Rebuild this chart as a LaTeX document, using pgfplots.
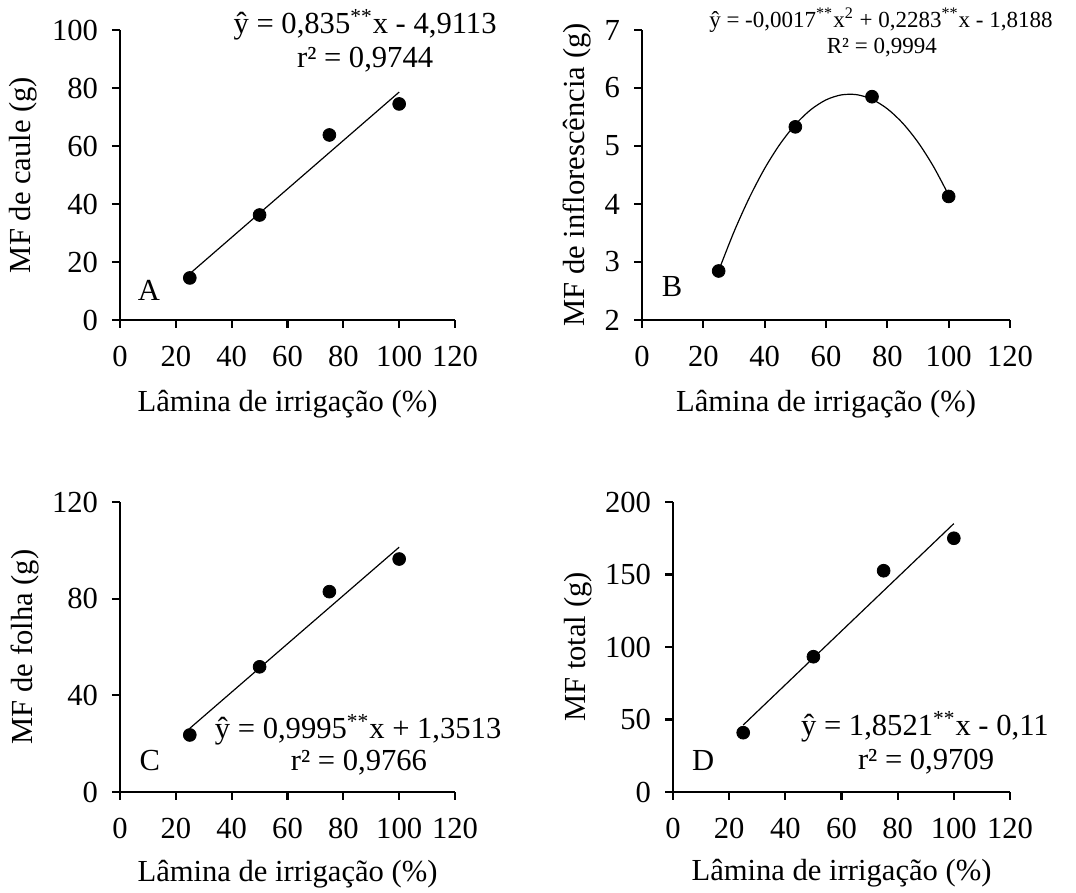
\documentclass[border=0pt]{standalone}
\usepackage{fontspec}
\setmainfont{Liberation Serif}
\usepackage{pgfplots}
\pgfplotsset{compat=1.18}
\pgfplotsset{
  panel/.style={
    scale only axis,
    axis x line=bottom, axis y line=left,
    axis line style={-, line width=1.1pt},
    tick style={line width=1.1pt, black},
    tick align=outside,
    major tick length=4pt,
    xmin=0, xmax=120, xtick={0,20,...,120},
    font=\fontsize{15.3}{18}\selectfont,
    tick label style={font=\fontsize{15.3}{18}\selectfont},
    xticklabel style={yshift=-5.5pt},
    yticklabel style={xshift=-3.5pt},
    /pgf/number format/assume math mode=true,
    xlabel={Lâmina de irrigação (\%)},
    clip=false,
  },
  pts/.style={only marks, mark=*, mark size=3.2pt, black},
  fit/.style={no marks, black, line width=0.6pt},
}
\begin{document}
\begin{tikzpicture}
\path[use as bounding box] (0,0) rectangle (538pt,446.5pt);
% Panel A
\begin{axis}[panel, at={(60pt,286.5pt)}, anchor=south west,
  width=167.5pt, height=145pt, ymin=0, ymax=100, ytick={0,20,...,100},
  ylabel={MF de caule (g)},
  ylabel style={at={(axis description cs:-0.29,0.5)}, anchor=center},
  xlabel style={at={(axis description cs:0.5,-0.29)}, anchor=center}]
\addplot[fit] coordinates {(25,15.96) (100,78.59)};
\addplot[pts] coordinates {(25,14.5) (50,36.2) (75,63.8) (100,74.5)};
\node at (axis cs:87.8,101.7) {ŷ = 0,835\textsuperscript{**}x - 4,9113};
\node at (axis cs:87.8,89.7) {r² = 0,9744};
\node at (axis cs:10.4,10.3) {A};
\end{axis}
% Panel B
\begin{axis}[panel, at={(321pt,286.5pt)}, anchor=south west,
  width=184pt, height=145pt, ymin=2, ymax=7, ytick={2,3,...,7},
  ylabel={MF de inflorescência (g)},
  ylabel style={at={(axis description cs:-0.177,0.5)}, anchor=center},
  xlabel style={at={(axis description cs:0.5,-0.29)}, anchor=center}]
\addplot[fit, smooth] coordinates {(25,2.85) (30,3.521) (35,4.108) (40,4.613) (45,5.033) (50,5.370) (55,5.624) (60,5.795) (65,5.881) (70,5.885) (75,5.805) (80,5.641) (85,5.394) (90,5.064) (95,4.650) (100,4.153)};
\addplot[pts] coordinates {(25,2.845) (50,5.33) (75,5.85) (100,4.13)};
\node[font=\fontsize{11.5}{14}\selectfont] at (axis cs:77.9,7.17) {ŷ = -0,0017\textsuperscript{**}x\textsuperscript{2} + 0,2283\textsuperscript{**}x - 1,8188};
\node[font=\fontsize{11.5}{14}\selectfont] at (axis cs:78.2,6.69) {R² = 0,9994};
\node at (axis cs:9.8,2.57) {B};
\end{axis}
% Panel C
\begin{axis}[panel, at={(60pt,50.5pt)}, anchor=south west,
  width=167.5pt, height=145pt, ymin=0, ymax=120, ytick={0,40,...,120},
  ylabel={MF de folha (g)},
  ylabel style={at={(axis description cs:-0.284,0.5)}, anchor=center},
  xlabel style={at={(axis description cs:0.5,-0.285)}, anchor=center}]
\addplot[fit] coordinates {(25,26.34) (100,101.30)};
\addplot[pts] coordinates {(25,23.6) (50,51.8) (75,82.9) (100,96.4)};
\node at (axis cs:85.3,25.7) {ŷ = 0,9995\textsuperscript{**}x + 1,3513};
\node at (axis cs:85.6,12.0) {r² = 0,9766};
\node at (axis cs:10.7,13.2) {C};
\end{axis}
% Panel D
\begin{axis}[panel, at={(336.5pt,50.5pt)}, anchor=south west,
  width=168.5pt, height=145pt, ymin=0, ymax=200, ytick={0,50,...,200},
  ylabel={MF total (g)},
  ylabel style={at={(axis description cs:-0.282,0.5)}, anchor=center},
  xlabel style={at={(axis description cs:0.5,-0.28)}, anchor=center}]
\addplot[fit] coordinates {(25,46.19) (100,185.10)};
\addplot[pts] coordinates {(25,40.9) (50,93.3) (75,152.6) (100,175.0)};
\node at (axis cs:89.7,44.8) {ŷ = 1,8521\textsuperscript{**}x - 0,11};
\node at (axis cs:90.1,20.7) {r² = 0,9709};
\node at (axis cs:10.7,22) {D};
\end{axis}
\end{tikzpicture}
\end{document}
